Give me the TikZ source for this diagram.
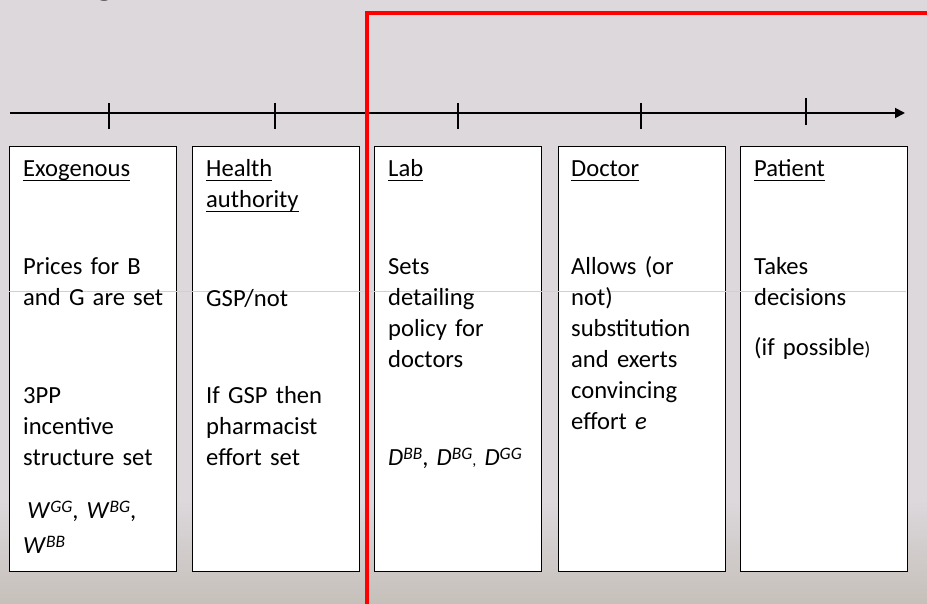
\documentclass[tikz,border=0pt]{standalone}
\usepackage{fontspec}
\setmainfont{Carlito}
\usetikzlibrary{arrows.meta}
\definecolor{slidebg}{RGB}{220,216,220}
\definecolor{slidelow}{RGB}{198,192,186}
\definecolor{faint}{RGB}{208,208,208}
\tikzset{stage/.style={draw=black, line width=1.4pt, fill=white, minimum width=167pt, minimum height=425pt, anchor=north west, inner sep=0},
         txt/.style={anchor=base west, inner sep=0, text width=155pt, align=left, font=\fontsize{24.6}{31}\selectfont},
         tick/.style={line width=1.6pt}}
\newsavebox{\ulbox}
\newcommand{\ulin}[1]{\leavevmode\sbox{\ulbox}{#1}\rlap{\rule[-4.3pt]{\wd\ulbox}{1.5pt}}\usebox{\ulbox}}
\newcommand{\supit}[1]{\raisebox{6pt}{\fontsize{17.5}{17.5}\selectfont\itshape #1}}

\begin{document}
\begin{tikzpicture}[x=1pt,y=-1pt]
\useasboundingbox (0,0) rectangle (927,604);
\fill[slidebg] (0,0) rectangle (927,604);
\shade[top color=slidebg, bottom color=slidelow] (0,500) rectangle (927,604);

% bit of the title that shows
\node[anchor=base, inner sep=0, font=\fontsize{44}{44}\selectfont] (title) at (105,-6) {g};

% time line
\coordinate (t0) at (10,113);
\coordinate (t1) at (905,113);
\draw[line width=1.8pt, -{Triangle[length=10pt,width=10pt]}] (t0) -- (t1);
\foreach \x in {109,275,458,641} \draw[tick] (\x,103) -- (\x,129);
\draw[tick] (806,98) -- (806,125);

% the five stages
\node[stage] (exo) at (9,146) {};
\node[stage] (health) at (192,146) {};
\node[stage] (lab) at (374,146) {};
\node[stage] (doctor) at (558,146) {};
\node[stage] (patient) at (740,146) {};
\draw[faint, line width=0.8pt] (9,291) -- (906,291);

\draw[red, line width=3.2pt] (367,604) -- (367,13) -- (927,13);

\node[txt] (exoT) at (23,177) {\ulin{Exogenous}};
\node[txt] (exoA) at (23,275) {Prices for B\\and G are set};
\node[txt] (exoB) at (23,403) {3PP\\incentive\\structure set};
\node[txt] (exoC) at (23,518) {\,\textit{W}\supit{GG}, \textit{W}\supit{BG},\\[4pt]\textit{W}\supit{BB}};

\node[txt] (hlT) at (206,177) {\ulin{Health}\\\ulin{authority}};
\node[txt] (hlA) at (206,306) {GSP/not};
\node[txt] (hlB) at (206,403) {If GSP then\\pharmacist\\effort set};

\node[txt] (labT) at (388,177) {\ulin{Lab}};
\node[txt] (labA) at (388,275) {Sets\\detailing\\policy for\\doctors};
\node[txt] (labB) at (388,465) {\textit{D}\supit{BB}, \textit{D}\supit{BG}{\fontsize{16}{16}\selectfont,} \textit{D}\supit{GG}};

\node[txt] (docT) at (571,177) {\ulin{Doctor}};
\node[txt] (docA) at (571,275) {Allows (or\\not)\\substitution\\and exerts\\convincing\\effort \textit{e}};

\node[txt] (patT) at (754,177) {\ulin{Patient}};
\node[txt] (patA) at (754,275) {Takes\\decisions};
\node[txt] (patB) at (754,355) {(if possible{\fontsize{19}{19}\selectfont)}};
\end{tikzpicture}
\end{document}
